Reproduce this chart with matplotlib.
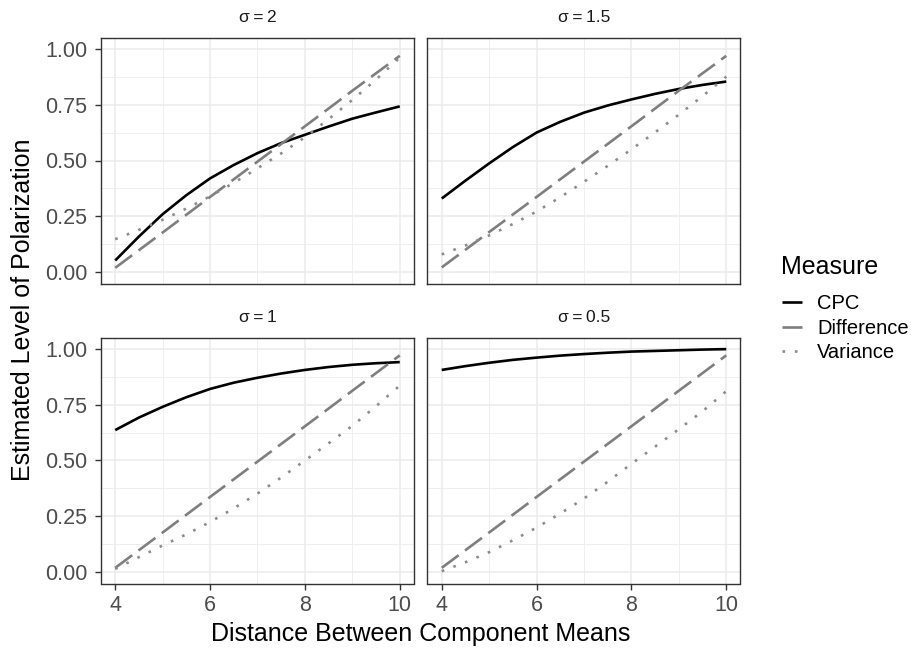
import matplotlib
matplotlib.use("Agg")
import matplotlib.pyplot as plt
import numpy as np

plt.rcParams["font.family"] = ["Liberation Sans", "DejaVu Sans"]

# distance between component means (readings every half unit for curves)
distance = [4, 4.5, 5, 5.5, 6, 6.5, 7, 7.5, 8, 8.5, 9, 9.5, 10]
distance_lin = [4, 5, 6, 7, 8, 9, 10]

# panel order: sigma = 2, 1.5, 1, 0.5
sigma_labels = ["2", "1.5", "1", "0.5"]

cpc = {
    "2": [0.053, 0.16, 0.26, 0.345, 0.42, 0.48, 0.533, 0.578, 0.615, 0.652, 0.687, 0.715, 0.742],
    "1.5": [0.33, 0.41, 0.487, 0.56, 0.625, 0.673, 0.714, 0.746, 0.773, 0.798, 0.82, 0.838, 0.853],
    "1": [0.636, 0.692, 0.74, 0.783, 0.82, 0.848, 0.87, 0.889, 0.905, 0.918, 0.928, 0.935, 0.94],
    "0.5": [0.905, 0.922, 0.937, 0.95, 0.96, 0.969, 0.976, 0.982, 0.987, 0.99, 0.993, 0.996, 0.998],
}
difference = {
    "2": [0.02, 0.178, 0.337, 0.495, 0.653, 0.812, 0.968],
    "1.5": [0.022, 0.18, 0.337, 0.495, 0.653, 0.812, 0.968],
    "1": [0.02, 0.178, 0.337, 0.495, 0.653, 0.812, 0.97],
    "0.5": [0.02, 0.178, 0.337, 0.495, 0.653, 0.812, 0.97],
}
variance = {
    "2": [0.148, 0.19, 0.235, 0.285, 0.34, 0.40, 0.465, 0.532, 0.604, 0.685, 0.771, 0.862, 0.96],
    "1.5": [0.08, 0.12, 0.165, 0.216, 0.272, 0.336, 0.405, 0.476, 0.55, 0.626, 0.705, 0.788, 0.875],
    "1": [0.015, 0.068, 0.12, 0.17, 0.225, 0.286, 0.352, 0.424, 0.50, 0.577, 0.655, 0.743, 0.835],
    "0.5": [0.005, 0.045, 0.09, 0.143, 0.20, 0.263, 0.33, 0.405, 0.485, 0.562, 0.64, 0.72, 0.81],
}

measures = ["CPC", "Difference", "Variance"]
styles = {
    "CPC": dict(color="black", linestyle="-"),
    "Difference": dict(color="#7F7F7F", linestyle=(0, (8, 3))),
    "Variance": dict(color="#8C8C8C", linestyle=(0, (1, 3.7))),
}
series = {"CPC": (distance, cpc), "Difference": (distance_lin, difference),
          "Variance": (distance, variance)}

W, H = 912, 649
fig = plt.figure(figsize=(W / 100, H / 100), dpi=100)

panel_w, panel_h = 313, 246
lefts = [101, 427.5]
tops = [37.5, 337.5]

grid_col = "#EBEBEB"
axes = []
for i, sig in enumerate(sigma_labels):
    r, c = divmod(i, 2)
    ax = fig.add_axes([lefts[c] / W, 1 - (tops[r] + panel_h) / H, panel_w / W, panel_h / H])
    axes.append(ax)
    for m in measures:
        xs, vals = series[m]
        ax.plot(xs, vals[sig], lw=1.9, solid_capstyle="butt",
                dash_capstyle="butt", label=m, **styles[m])
    ax.set_xlim(3.7, 10.3)
    ax.set_ylim(-0.05, 1.05)
    ax.set_xticks([4, 6, 8, 10])
    ax.set_xticks([5, 7, 9], minor=True)
    ax.set_yticks([0, 0.25, 0.5, 0.75, 1.0])
    ax.set_yticks([0.125, 0.375, 0.625, 0.875], minor=True)
    ax.grid(True, which="major", color=grid_col, lw=1.1, zorder=0)
    ax.grid(True, which="minor", color=grid_col, lw=0.55, zorder=0)
    ax.set_axisbelow(True)
    for s in ax.spines.values():
        s.set_color("#333333")
        s.set_linewidth(1.0)
    ax.tick_params(which="major", length=4.5, width=1.0, color="#333333",
                   labelcolor="#4D4D4D", labelsize=15.5, pad=3.5)
    ax.tick_params(axis="y", which="major", pad=5.5)
    ax.tick_params(which="minor", length=0)
    if c == 0:
        ax.set_yticklabels(["0.00", "0.25", "0.50", "0.75", "1.00"])
    else:
        ax.tick_params(axis="y", which="major", labelleft=False, length=0)
    if r == 0:
        ax.tick_params(axis="x", which="major", labelbottom=False, length=0)
    ax.set_title("\u03c3\u2009=\u2009" + sig, fontsize=12.5, color="#1A1A1A", pad=11)

fig.text(23 / W, 1 - 310 / H, "Estimated Level of Polarization", rotation=90,
         ha="center", va="center", fontsize=18)
fig.text((101 + 740.5) / 2 / W, 1 - 634 / H, "Distance Between Component Means",
         ha="center", va="center", fontsize=18)

# legend title drawn separately to match the ggplot spacing
fig.text(781 / W, 1 - 267 / H, "Measure", ha="left", va="center", fontsize=18)
handles = axes[0].get_lines()
leg = fig.legend(handles, measures, loc="upper left",
                 bbox_to_anchor=(782 / W, 1 - 294 / H), frameon=False,
                 fontsize=14.5, handlelength=1.0, handletextpad=0.75,
                 labelspacing=0.28, borderpad=0, borderaxespad=0)

fig.savefig("out.png", dpi=100)
